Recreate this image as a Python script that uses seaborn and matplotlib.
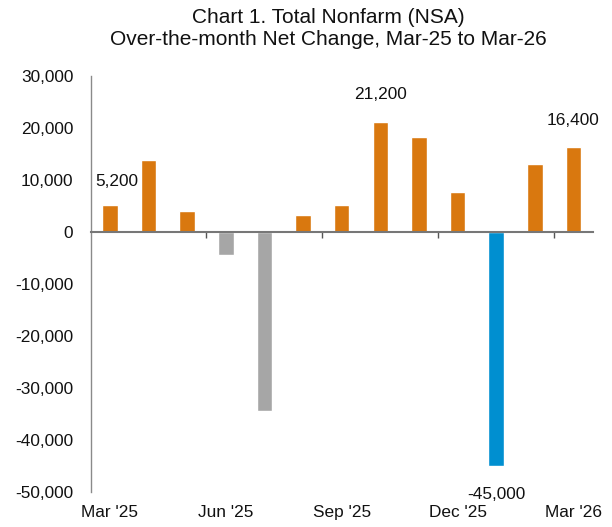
import matplotlib
matplotlib.use("Agg")
import matplotlib.pyplot as plt
import matplotlib.ticker as mticker
import pandas as pd
import seaborn as sns

# Data
months = ["Mar '25", "Apr '25", "May '25", "Jun '25", "Jul '25", "Aug '25", "Sep '25",
          "Oct '25", "Nov '25", "Dec '25", "Jan '26", "Feb '26", "Mar '26"]
net_change = [5200, 13800, 4100, -4500, -34400, 3200, 5200,
              21200, 18200, 7700, -45000, 13100, 16400]
bar_group = ["gain", "gain", "gain", "loss", "loss", "gain", "gain",
             "gain", "gain", "gain", "benchmark", "gain", "gain"]
shown_months = ["Mar '25", "Jun '25", "Sep '25", "Dec '25", "Mar '26"]
labelled_months = ["Mar '25", "Oct '25", "Jan '26", "Mar '26"]
y_ticks = [-50000, -40000, -30000, -20000, -10000, 0, 10000, 20000, 30000]

colors = {"gain": "#D9780F", "loss": "#A6A6A6", "benchmark": "#008FD0"}

df = pd.DataFrame({"month": months, "change": net_change, "group": bar_group})

sns.set_theme(style="white")
plt.rcParams["font.family"] = ["Liberation Sans", "DejaVu Sans"]
plt.rcParams["axes.unicode_minus"] = False

fig = plt.figure(figsize=(6.12, 5.27), dpi=100)
ax = fig.add_axes([0.148, 0.0664, 0.8206, 0.7894])

sns.barplot(data=df, x="month", y="change", hue="group", order=months,
            palette=colors, dodge=False, width=0.4, saturation=1,
            legend=False, ax=ax)

ax.set_xlim(-0.5, len(months) - 0.5)
ax.set_ylim(y_ticks[0], y_ticks[-1])
ax.set_yticks(y_ticks)
ax.yaxis.set_major_formatter(mticker.FuncFormatter(lambda v, pos: f"{v:,.0f}"))
ax.tick_params(axis="y", length=0, pad=12.5, labelsize=12.4, labelcolor="#111111")
ax.set_xlabel("")
ax.set_ylabel("")

# axis lines
for side in ["top", "right"]:
    ax.spines[side].set_visible(False)
ax.spines["left"].set_color("#8a8a8a")
ax.spines["left"].set_linewidth(1.0)
ax.spines["bottom"].set_position(("data", 0))
ax.spines["bottom"].set_color("#777777")
ax.spines["bottom"].set_linewidth(1.5)

# quarter separators on the zero line
ax.set_xticks([2.5, 5.5, 8.5, 11.5], labels=[])
ax.tick_params(axis="x", bottom=True, direction="out", length=4, width=1, color="#555555")

# month labels at the bottom
sec = ax.secondary_xaxis("bottom")
sec.set_xticks([months.index(m) for m in shown_months], labels=shown_months)
sec.tick_params(length=0, pad=9, labelsize=12.4, labelcolor="#111111")
sec.spines["bottom"].set_visible(False)

# value labels
label_shift = {"Mar '25": (5, 17), "Oct '25": (0, 19.5), "Jan '26": (0, -20.5), "Mar '26": (0, 19)}
for m in labelled_months:
    i = months.index(m)
    v = net_change[i]
    ax.annotate(f"{v:,}", (i, v), xytext=label_shift[m], textcoords="offset points",
                ha="center", va="center", fontsize=12.4, color="#111111")

fig.text(0.537, 0.985, "Chart 1. Total Nonfarm (NSA)\nOver-the-month Net Change, Mar-25 to Mar-26",
         ha="center", va="top", fontsize=15, color="#111111", linespacing=1.2)

fig.savefig("out.png", dpi=100)
